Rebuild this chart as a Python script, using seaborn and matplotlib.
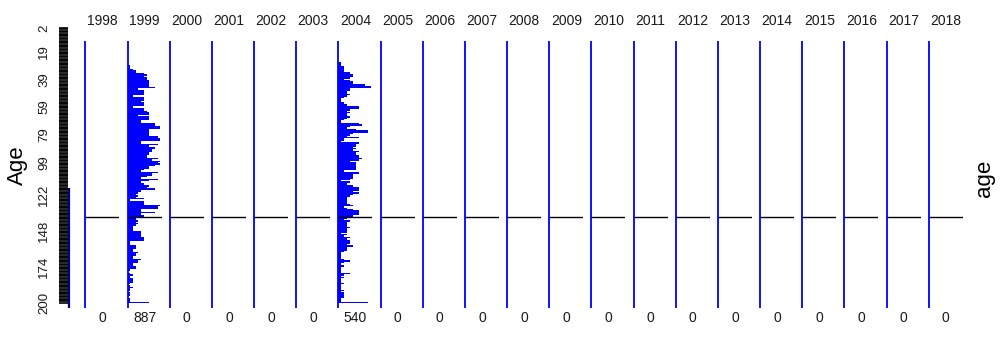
import numpy as np
import pandas as pd
import matplotlib
matplotlib.use("Agg")
import matplotlib.pyplot as plt
import seaborn as sns

# ---------------- data ----------------
years = list(range(1998, 2019))
totals = [0, 887, 0, 0, 0, 0, 540, 0, 0, 0, 0, 0, 0, 0, 0, 0, 0, 0, 0, 0, 0]

ages_1999 = list(range(29, 201))
counts_1999 = [
    1, 1, 1, 2, 3, 3, 6,                      # 29-35
    7, 6, 7, 7,                               # 36-39
    8, 8, 8, 8, 8,                            # 40-44
    10, 4, 6, 6, 6, 6, 2,                     # 45-51
    6, 6, 6, 5, 6, 6, 6,                      # 52-58
    2, 6, 6, 7,                               # 59-62
    8, 8, 4, 8, 8, 8,                         # 63-68
    5, 5, 10, 10, 12, 12, 8, 8,               # 69-76
    8, 8, 8, 11, 11, 12, 12, 5, 5,            # 77-85
    11, 8, 10, 10, 9, 9, 8, 8, 7, 7,          # 86-95
    11, 9, 12, 11, 12, 10, 8, 8, 6, 5,        # 96-105
    11, 9, 9, 7, 5, 11, 8, 5, 6, 6,           # 106-115
    8, 7, 10, 5, 5, 4, 3, 4, 3, 6,            # 116-125
    1, 6, 6, 6, 12, 11, 11, 5, 5, 10,         # 126-135
    5, 6, 6, 3, 3, 4, 3, 4, 3, 2,             # 136-145
    2, 2, 2, 5, 5, 5, 5, 6, 6, 6,             # 146-155
    1, 1, 1, 3, 3, 3, 2, 2, 4, 3,             # 156-165
    3, 2, 2, 5, 4, 4, 2, 2, 3, 3,             # 166-175
    1, 1, 0, 1, 2, 1, 1, 2, 2, 2,             # 176-185
    1, 0, 1, 2, 1, 1, 0, 1, 1, 1,             # 186-195
    0, 1, 1, 1, 8,                            # 196-200
]

ages_2004 = list(range(27, 201))
counts_2004 = [
    1, 1, 1, 2, 2, 2, 2, 4, 4, 5,             # 27-36
    5, 4, 2, 4, 5, 5, 9, 11, 11, 4,           # 37-46
    4, 3, 3, 4, 3, 2, 1, 1, 1, 2,             # 47-56
    3, 3, 7, 7, 4, 3, 4, 3, 3, 4,             # 57-66
    3, 2, 1, 1, 7, 8, 4, 3, 6, 10,            # 67-76
    10, 5, 4, 3, 7, 2, 2, 1, 7, 6,            # 77-86
    6, 5, 6, 5, 7, 6, 6, 7, 7, 8,             # 87-96
    7, 4, 6, 6, 6, 6, 6, 6, 2, 7,             # 97-106
    7, 5, 5, 5, 4, 1, 4, 3, 3, 5,             # 107-116
    7, 7, 7, 5, 7, 5, 4, 3, 3, 3,             # 117-126
    3, 3, 4, 5, 2, 3, 5, 7, 7, 7,             # 127-136
    5, 5, 3, 2, 4, 3, 3, 3, 3, 4,             # 137-146
    3, 3, 3, 1, 3, 2, 4, 3, 4, 4,             # 147-156
    4, 3, 5, 3, 3, 3, 2, 1, 1, 1,             # 157-166
    1, 1, 2, 4, 2, 1, 2, 2, 1, 1,             # 167-176
    1, 1, 4, 2, 1, 2, 1, 1, 1, 2,             # 177-186
    1, 1, 1, 1, 2, 1, 2, 2, 2, 2,             # 187-196
    1, 1, 1, 10,                              # 197-200
]

panel_data = {1999: (ages_1999, counts_1999), 2004: (ages_2004, counts_2004)}

age_ticks = [2, 19, 39, 59, 79, 99, 122, 148, 174, 200]
ref_age = 138          # horizontal reference line
line_top_age = 11      # top of the vertical line in each panel
strip_dark_from = 117.6

# ---------------- style ----------------
sns.set_theme(style="white")
plt.rcParams['font.family'] = ['Liberation Sans', 'DejaVu Sans']

W, H = 1001, 338
fig = plt.figure(figsize=(W / 100, H / 100), dpi=100)

TOP, HEIGHT = 24, 283.7
YLIM = (203.6, -0.9)


def px_axes(left, width):
    return fig.add_axes([left / W, 1 - (TOP + HEIGHT) / H, width / W, HEIGHT / H])


# left strip with age ticks
sax = px_axes(59, 12)
sax.set_xlim(0, 12)
sax.set_ylim(*YLIM)
all_ages = np.arange(2, 201)
sax.hlines(all_ages, 0, 9, color='black', lw=1.2)
sax.vlines(10.3, strip_dark_from, YLIM[0], color='#000080', lw=1.6)
sax.set_yticks(age_ticks)
sax.set_yticklabels([str(a) for a in age_ticks], rotation=90, va='center',
                    fontsize=9.5, color='#1a1a1a')
sax.tick_params(axis='y', length=0, pad=6.5)
sax.set_xticks([])
for s in sax.spines.values():
    s.set_visible(False)
sax.patch.set_alpha(0)

fig.text(17.5 / W, 1 - 165 / H, 'Age', rotation=90, fontsize=16,
         ha='center', va='center', color='black')
fig.text(985 / W, 1 - 178 / H, 'age', rotation=90, fontsize=16,
         ha='center', va='center', color='black')

LEFT0, STEP, PW = 85.4, 42.17, 34
for i, yr in enumerate(years):
    left = LEFT0 + STEP * i
    ax = px_axes(left, PW)
    if yr in panel_data:
        ages, counts = panel_data[yr]
        df = pd.DataFrame({'age': ages, 'count': counts})
        sns.barplot(data=df, x='count', y='age', orient='h', native_scale=True,
                    color='#0000FF', saturation=1, width=1.0, linewidth=0,
                    errorbar=None, ax=ax)
        xmax = max(counts) * 1.04
    else:
        xmax = 1
    ax.set_xlim(0, xmax)
    ax.set_ylim(*YLIM)
    ax.axhline(ref_age, color='black', lw=1.0, zorder=5)
    ax.vlines(0, line_top_age, YLIM[0], color='#0000FF', lw=1.3, zorder=6,
              clip_on=False)
    ax.set_xticks([])
    ax.set_yticks([])
    ax.set_xlabel('')
    ax.set_ylabel('')
    for s in ax.spines.values():
        s.set_visible(False)
    ax.patch.set_alpha(0)
    cx = (left + PW / 2) / W
    fig.text(cx, 1 - 21 / H, str(yr), fontsize=10, ha='center', va='center',
             color='#1a1a1a')
    fig.text(cx, 1 - 318 / H, str(totals[i]), fontsize=10, ha='center',
             va='center', color='#1a1a1a')

fig.savefig('out.png', dpi=100)
